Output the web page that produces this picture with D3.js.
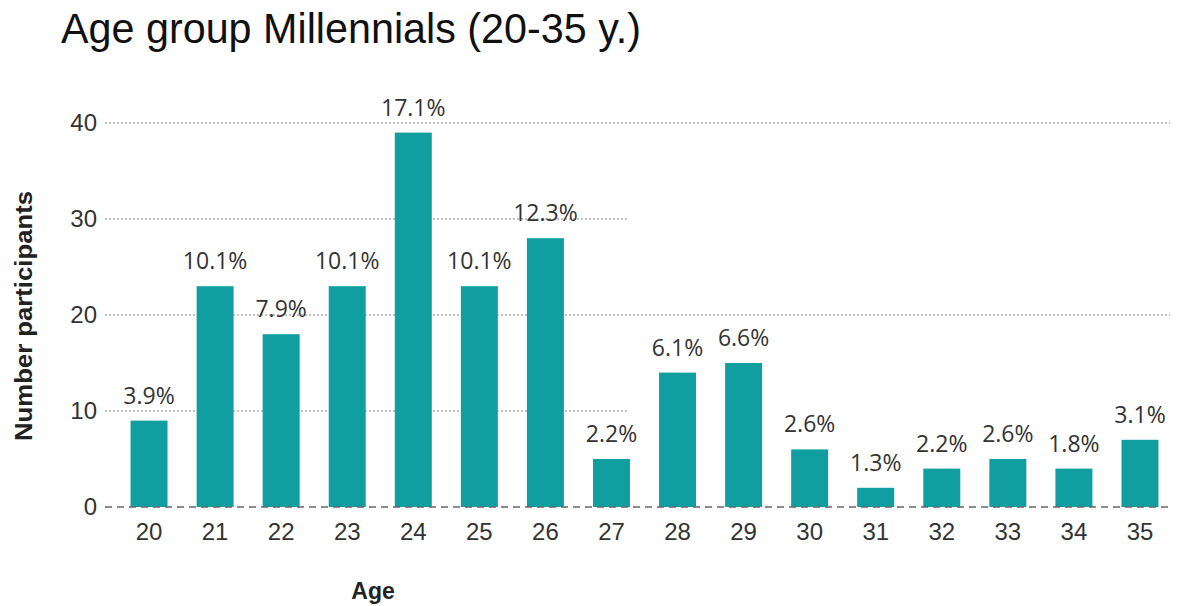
<!DOCTYPE html>
<html>
<head>
<meta charset="utf-8">
<script src="https://cdn.jsdelivr.net/npm/d3@7"></script>
<style>
  html, body { margin: 0; padding: 0; background: #fff; }
  svg { display: block; }
</style>
</head>
<body>
<div id="chart"></div>
<script>
const ages = ["20","21","22","23","24","25","26","27","28","29","30","31","32","33","34","35"];
const counts = [9, 23, 18, 23, 39, 23, 28, 5, 14, 15, 6, 2, 4, 5, 4, 7];
const shares = ["3.9%","10.1%","7.9%","10.1%","17.1%","10.1%","12.3%","2.2%","6.1%","6.6%","2.6%","1.3%","2.2%","2.6%","1.8%","3.1%"];
const yTicks = [0, 10, 20, 30, 40];

const W = 1178, H = 606;
const M = { top: 123, right: 5, bottom: 99, left: 116 };
const TEAL = "#109ea1";
const SANS = "'Liberation Sans', Arial, sans-serif";

const svg = d3.select("#chart").append("svg").attr("width", W).attr("height", H);

const x = d3.scaleBand().domain(ages).range([M.left, W - M.right]).paddingInner(0.44).paddingOuter(0.22);
const y = d3.scaleLinear().domain([0, 40]).range([H - M.bottom, M.top]);

// title
svg.append("text").attr("x", 61).attr("y", 43)
  .style("font-family", SANS).style("font-size", "43px").style("fill", "#111")
  .attr("textLength", 580).attr("lengthAdjust", "spacingAndGlyphs")
  .text("Age group Millennials (20-35 y.)");

// gridlines (10 and 30 stop mid-plot as in the original picture)
const grid = svg.append("g");
yTicks.filter(d => d > 0).forEach(d => {
  grid.append("line")
    .attr("x1", 105).attr("x2", d === 10 || d === 30 ? 628 : W - 8)
    .attr("y1", y(d)).attr("y2", y(d))
    .attr("stroke", "#8a8a8a").attr("stroke-width", 1.2).attr("stroke-dasharray", "2,2");
});

// bars
svg.append("g").selectAll("rect").data(counts).join("rect")
  .attr("x", (d, i) => x(ages[i])).attr("width", x.bandwidth())
  .attr("y", d => y(d)).attr("height", d => y(0) - y(d))
  .attr("fill", TEAL);

// zero line, dashed over bars
svg.append("line").attr("x1", 105).attr("x2", W - 8).attr("y1", y(0)).attr("y2", y(0))
  .attr("stroke", "#666").attr("stroke-width", 1.6).attr("stroke-dasharray", "7,5");

// value labels
svg.append("g").selectAll("text").data(counts).join("text")
  .attr("x", (d, i) => x(ages[i]) + x.bandwidth() / 2).attr("y", d => y(d) - 17)
  .attr("text-anchor", "middle")
  .style("font-family", "'Open Sans', 'Noto Sans', sans-serif").style("font-size", "23px").style("fill", "#333")
  .text((d, i) => shares[i]);

// y axis ticks
const yAxis = svg.append("g").attr("transform", `translate(97,0)`)
  .call(d3.axisLeft(y).tickValues(yTicks).tickSize(0).tickPadding(0));
yAxis.select(".domain").remove();
yAxis.selectAll("text").style("font-family", SANS).style("font-size", "24px").style("fill", "#333");

// x axis ticks
const xAxis = svg.append("g").attr("transform", `translate(0,${y(0)})`)
  .call(d3.axisBottom(x).tickSize(0).tickPadding(16));
xAxis.select(".domain").remove();
xAxis.selectAll("text").style("font-family", SANS).style("font-size", "24px").style("fill", "#333");

// axis titles
svg.append("text").attr("transform", "translate(32,316) rotate(-90)").attr("text-anchor", "middle")
  .style("font-family", SANS).style("font-weight", 700).style("font-size", "23px").style("fill", "#222")
  .attr("textLength", 250).attr("lengthAdjust", "spacingAndGlyphs")
  .text("Number participants");
svg.append("text").attr("x", 373).attr("y", 599).attr("text-anchor", "middle")
  .style("font-family", SANS).style("font-weight", 700).style("font-size", "23px").style("fill", "#222")
  .text("Age");
</script>
</body>
</html>
